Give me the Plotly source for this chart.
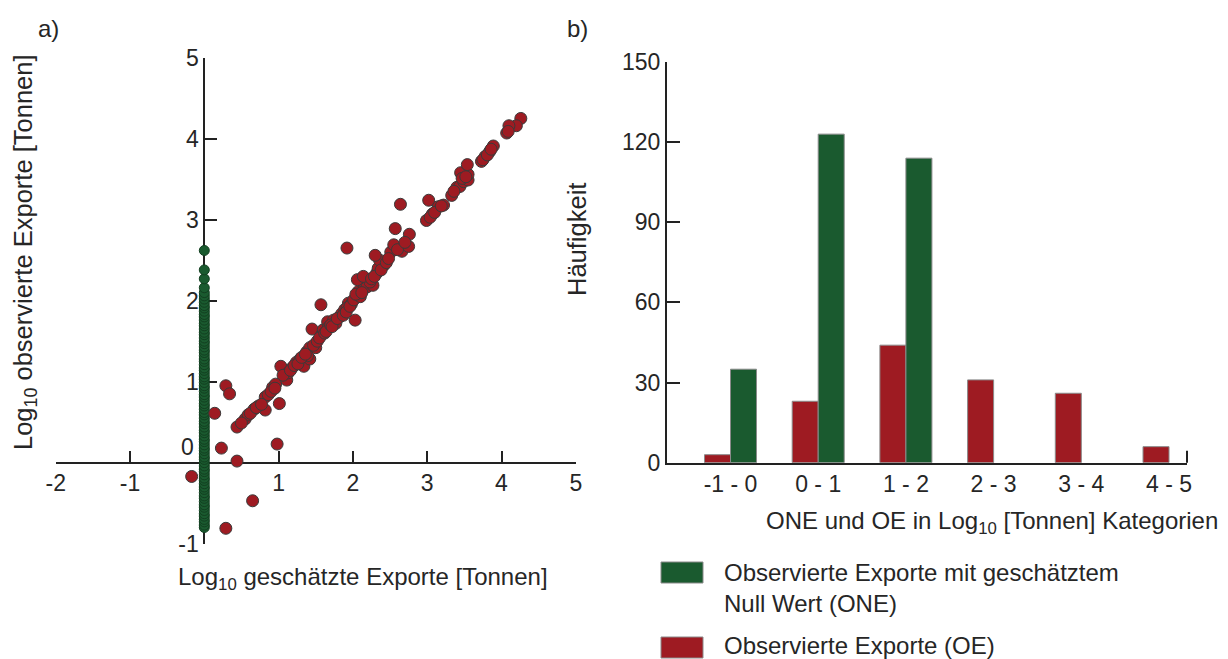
import plotly.graph_objects as go

# page is rendered with the default 8px body margin: the figure starts at (8, 8)
OFF = 8
W, H = 1228 - OFF, 659 - OFF


def fx(p):
    return (p - OFF) / W


def fy(p):
    return 1 - (p - OFF) / H


# ---------------- data ----------------
# a) scatter: observed exports (OE) - log10 estimated (x) vs log10 observed (y)
oe_x = [-0.17, 0.29, 0.65,
        0.44, 0.14, 0.23, 0.29, 0.34, 0.44, 0.55, 0.59, 0.67, 0.73, 0.82, 0.82,
        0.92, 0.96, 1.01, 0.98, 0.50, 0.62, 0.70, 0.86, 0.90, 0.77, 0.95,
        1.03, 1.11, 1.13, 1.18, 1.24, 1.29, 1.34, 1.38, 1.42, 1.42, 1.45, 1.50,
        1.57, 1.58, 1.60, 1.66, 1.67, 1.74, 1.77, 1.82, 1.85, 1.89, 1.94, 1.39,
        1.92, 2.03, 1.98, 1.06, 1.16, 1.21, 1.26, 1.31, 1.36, 1.47, 1.52, 1.55,
        1.62, 1.64, 1.70, 1.72, 1.79, 1.87, 1.91, 1.96,
        2.01, 2.10, 2.07, 2.15, 2.19, 2.27, 2.23, 2.06, 2.14, 2.32, 2.34, 2.42,
        2.36, 2.30, 1.92, 2.51, 2.55, 2.66, 2.75, 2.76, 2.57, 2.99, 2.04, 2.12,
        2.25, 2.29, 2.38, 2.45, 2.48, 2.60, 2.70,
        3.02, 3.22, 3.15, 3.07, 2.64, 3.33, 3.40, 3.44, 3.49, 3.55, 3.55, 3.45,
        3.54, 3.73, 3.78, 3.84, 3.89, 3.04, 3.10, 3.19, 3.36, 3.47, 3.52, 3.75,
        3.81, 3.86,
        4.26, 4.20, 4.10, 4.07, 4.09]
oe_y = [-0.17, -0.81, -0.47,
        0.02, 0.61, 0.18, 0.95, 0.85, 0.44, 0.54, 0.59, 0.66, 0.70, 0.65, 0.81,
        0.93, 0.97, 0.73, 0.23, 0.49, 0.61, 0.68, 0.84, 0.88, 0.72, 0.92,
        1.19, 1.02, 1.11, 1.17, 1.24, 1.28, 1.19, 1.37, 1.42, 1.28, 1.65, 1.42,
        1.95, 1.58, 1.64, 1.74, 1.67, 1.76, 1.72, 1.80, 1.84, 1.89, 1.97, 1.32,
        1.91, 1.76, 1.96, 1.08, 1.14, 1.20, 1.22, 1.30, 1.34, 1.45, 1.50, 1.54,
        1.60, 1.62, 1.70, 1.68, 1.78, 1.82, 1.86, 1.93,
        2.01, 2.05, 2.11, 2.15, 2.17, 2.19, 2.23, 2.26, 2.30, 2.34, 2.40, 2.44,
        2.50, 2.56, 2.65, 2.60, 2.69, 2.61, 2.67, 2.82, 2.89, 2.99, 2.08, 2.10,
        2.27, 2.30, 2.38, 2.47, 2.52, 2.63, 2.72,
        3.24, 3.18, 3.16, 3.07, 3.19, 3.30, 3.40, 3.41, 3.47, 3.49, 3.56, 3.58,
        3.68, 3.72, 3.78, 3.84, 3.91, 3.03, 3.09, 3.17, 3.35, 3.51, 3.53, 3.74,
        3.80, 3.87,
        4.25, 4.16, 4.16, 4.07, 4.09]

# observed exports with estimated zero value (ONE): x = 0
one_y = [-0.80, -0.77, -0.73, -0.70, -0.66, -0.63, -0.59, -0.55, -0.52, -0.48,
         -0.44, -0.41, -0.37, -0.33, -0.30, -0.26, -0.22, -0.19, -0.15, -0.11,
         -0.08, -0.04, 0.00, 0.04, 0.07, 0.11, 0.15, 0.18, 0.22, 0.26, 0.29,
         0.33, 0.37, 0.40, 0.44, 0.48, 0.51, 0.55, 0.59, 0.62, 0.66, 0.70,
         0.73, 0.77, 0.81, 0.84, 0.88, 0.92, 0.95, 0.99, 1.03, 1.06, 1.10,
         1.14, 1.17, 1.21, 1.25, 1.28, 1.32, 1.36, 1.39, 1.43, 1.47, 1.50,
         1.54, 1.58, 1.61, 1.65, 1.69, 1.72, 1.76, 1.80, 1.83, 1.87, 1.91,
         1.94, 1.98, 2.02, 2.06, 2.10, 2.16, 2.27, 2.38, 2.62]
one_x = [0] * len(one_y)

# b) histogram
categories = ["-1 - 0", "0 - 1", "1 - 2", "2 - 3", "3 - 4", "4 - 5"]
oe_counts = [3, 23, 44, 31, 26, 6]
one_counts = [35, 123, 114, None, None, None]

scatter_xticks = [-2, -1, 1, 2, 3, 4, 5]
scatter_xticktext = ["-2", "-1", "1", "2", "3", "4", "5"]
scatter_yticks = [-1, 1, 2, 3, 4, 5]
scatter_yticktext = ["-1", "1", "2", "3", "4", "5"]
bar_yticks = [0, 30, 60, 90, 120, 150]

# ---------------- styles ----------------
RED = "#9e1b22"
GREEN = "#1a5a2f"
TXT = "#262626"
FONT = "Liberation Sans, Arial, sans-serif"
FS = 23      # tick labels
FT = 24      # horizontal titles / legend
FV = 25.5    # rotated titles

# scatter domain (reference pixel positions)
sx0, sx1 = fx(55.7), fx(575.8)
sy0, sy1 = fy(543.7), fy(57.7)
# bar domain
bx0, bx1 = fx(667), fx(1187)
by0, by1 = fy(462.7), fy(62)

fig = go.Figure()

fig.add_trace(go.Scatter(
    x=one_x, y=one_y, mode="markers", xaxis="x", yaxis="y",
    marker=dict(size=10, color=GREEN, line=dict(color="#123f20", width=1)),
    showlegend=False, cliponaxis=False))
fig.add_trace(go.Scatter(
    x=oe_x, y=oe_y, mode="markers", xaxis="x", yaxis="y",
    marker=dict(size=12, color=RED, line=dict(color="#3a3a3a", width=1)),
    showlegend=False, cliponaxis=False))

fig.add_trace(go.Bar(
    x=categories, y=oe_counts, xaxis="x2", yaxis="y2", name="Observierte Exporte (OE)",
    marker=dict(color=RED, line=dict(color="#8a8a8a", width=1)), showlegend=False))
fig.add_trace(go.Bar(
    x=categories, y=one_counts, xaxis="x2", yaxis="y2",
    name="Observierte Exporte mit geschätztem Null Wert (ONE)",
    marker=dict(color=GREEN, line=dict(color="#8a8a8a", width=1)), showlegend=False))

axis_common = dict(showgrid=False, zeroline=False, showline=True, linecolor="#222",
                   linewidth=2, ticks="inside", tickcolor="#222", tickwidth=2,
                   tickfont=dict(family=FONT, size=FS, color=TXT), layer="below traces")

fig.update_layout(
    width=W, height=H, margin=dict(l=0, r=0, t=0, b=0, pad=0, autoexpand=False),
    paper_bgcolor="white", plot_bgcolor="rgba(0,0,0,0)",
    font=dict(family=FONT, size=FS, color=TXT),
    bargap=0.407, bargroupgap=0, barmode="group",
    xaxis=dict(domain=[sx0, sx1], range=[-2, 5], anchor="free",
               position=sy0 + (sy1 - sy0) / 6, tickvals=scatter_xticks,
               ticktext=scatter_xticktext, ticklen=11, **axis_common),
    yaxis=dict(domain=[sy0, sy1], range=[-1, 5], anchor="free",
               position=sx0 + (sx1 - sx0) * 2 / 7, tickvals=scatter_yticks,
               ticktext=scatter_yticktext, ticklen=12, **axis_common),
    xaxis2=dict(domain=[bx0, bx1], range=[-0.724, 5.205], anchor="y2",
                type="category", **{**axis_common, "ticks": ""}),
    yaxis2=dict(domain=[by0, by1], range=[0, 150], anchor="x2",
                tickvals=bar_yticks, ticklen=13, **axis_common),
    showlegend=False,
)

ann = [
    dict(x=fx(48), y=fy(28), text="a)", size=FT),
    dict(x=fx(577), y=fy(28), text="b)", size=FT),
    dict(x=fx(25), y=fy(252), text="Log<sub>10</sub> observierte Exporte [Tonnen]",
         textangle=-90, size=FV),
    dict(x=fx(363), y=fy(578), text="Log<sub>10</sub> geschätzte Exporte [Tonnen]", size=FT),
    dict(x=fx(577), y=fy(240), text="Häufigkeit", textangle=-90, size=FV),
    dict(x=fx(1220), y=fy(522), text="ONE und OE in Log<sub>10</sub> [Tonnen] Kategorien",
         xanchor="right", size=FT),
    dict(x=fx(196), y=fy(447), text="0", xanchor="right", size=FS),
    dict(x=fx(722), y=fy(588), text="Observierte Exporte mit geschätztem<br>Null Wert (ONE)",
         xanchor="left", align="left", size=FT),
    dict(x=fx(722), y=fy(645), text="Observierte Exporte (OE)", xanchor="left",
         align="left", size=FT),
]
for a in ann:
    a.setdefault("xanchor", "center")
    size = a.pop("size")
    a.update(xref="paper", yref="paper", yanchor="middle", showarrow=False,
             font=dict(family=FONT, size=size, color=TXT))
fig.update_layout(annotations=ann)

shapes = [
    # legend swatches
    dict(type="rect", xref="paper", yref="paper", x0=fx(661), x1=fx(703), y0=fy(583), y1=fy(562),
         fillcolor=GREEN, line=dict(color="#8a8a8a", width=1)),
    dict(type="rect", xref="paper", yref="paper", x0=fx(661), x1=fx(703), y0=fy(658), y1=fy(637),
         fillcolor=RED, line=dict(color="#8a8a8a", width=1)),
    # end tick of bar x axis
    dict(type="line", xref="paper", yref="paper", x0=bx1, x1=bx1, y0=by0, y1=by0 + 12 / H,
         line=dict(color="#222", width=2)),
]
fig.update_layout(shapes=shapes)

fig.write_html("out.html")
